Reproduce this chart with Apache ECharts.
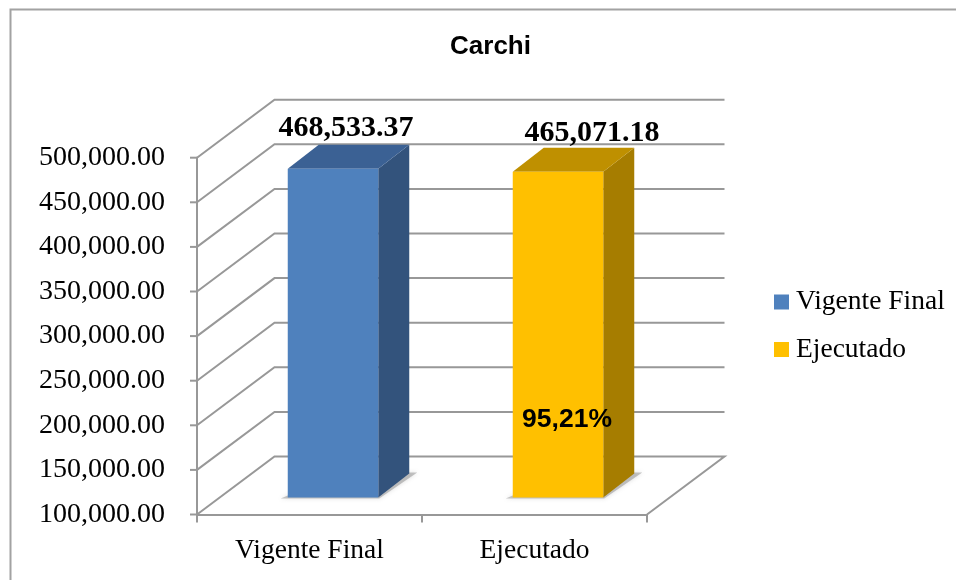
<!DOCTYPE html>
<html><head><meta charset="utf-8">
<style>html,body{margin:0;padding:0;background:#fff}#c{width:956px;height:580px}</style>
<script src="https://cdn.jsdelivr.net/npm/echarts@6/dist/echarts.min.js"></script>
</head><body><div id="c"></div>
<script>
var categories = ['Vigente Final', 'Ejecutado'];
var vigenteFinal = [468533.37];
var ejecutado = [465071.18];
var valueLabels = ['468,533.37', '465,071.18'];
var percentLabel = '95,21%';
var titleText = 'Carchi';
var tickValues = [100000,150000,200000,250000,300000,350000,400000,450000,500000];

var SERIF = '"Liberation Serif"';
var WALL = [77.5, -58];      // depth of the whole plot
var BAR_SHIFT = [23.5, -17]; // where the bars stand in the depth
var BAR_DEPTH = [31, -24];
var BAR_W = 90.5;
var LINE = '#989898';
var LW = 2;

function wallItem(params, api) {
  var v = api.value(0);
  var p = api.coord([0, v]);
  var cs = params.coordSys;
  var x0 = cs.x, x1 = cs.x + cs.width, y = p[1];
  var pts = [[x0, y], [x0 + WALL[0], y + WALL[1]], [x1 + WALL[0], y + WALL[1]]];
  if (v === tickValues[0]) pts.push([x1, y]);
  var st = {stroke: LINE, lineWidth: LW};
  var kids = [
    {type: 'polyline', shape: {points: pts}, style: {stroke: LINE, fill: null, lineWidth: LW}},
    {type: 'line', shape: {x1: x0 - 7, y1: y, x2: x0, y2: y}, style: st}
  ];
  if (v === tickValues[0]) {
    [x0, x0 + cs.width / 2, x1].forEach(function (x) {
      kids.push({type: 'line', shape: {x1: x, y1: y, x2: x, y2: y + 8}, style: st});
    });
  }
  return {type: 'group', children: kids};
}

function barRenderer(front, side, top, labelInfo, extra) {
  return function (params, api) {
    var c = api.coord([api.value(0), api.value(1)]);
    var base = api.coord([api.value(0), tickValues[0]]);
    var xc = c[0] + BAR_SHIFT[0];
    var l = xc - BAR_W / 2, r = xc + BAR_W / 2;
    var t = c[1] + BAR_SHIFT[1], b = base[1] + BAR_SHIFT[1];
    var dx = BAR_DEPTH[0], dy = BAR_DEPTH[1];
    var kids = [
      {type: 'polygon', shape: {points: [[l - 7, b + 1], [r + 1, b + 1], [r + dx + 8, b + dy - 1], [r + dx, b + dy - 1], [r, b - 2], [l, b - 2]]},
        style: {fill: 'rgba(130,130,130,0.45)', shadowBlur: 4, shadowColor: 'rgba(130,130,130,0.6)'}},
      {type: 'polygon', shape: {points: [[r, t], [r + dx, t + dy], [r + dx, b + dy], [r, b]]}, style: {fill: side}},
      {type: 'polygon', shape: {points: [[l, t], [l + dx, t + dy], [r + dx, t + dy], [r, t]]}, style: {fill: top}},
      {type: 'rect', shape: {x: l, y: t, width: r - l, height: b - t}, style: {fill: front}},
      {type: 'text', style: {text: valueLabels[labelInfo.i], x: xc + labelInfo.x, y: t + labelInfo.y, align: 'center', verticalAlign: 'middle',
        font: 'bold 30px ' + SERIF, fill: '#000'}}
    ];
    if (extra) kids.push({type: 'text', style: {text: extra, x: xc + 9, y: 420, align: 'center', verticalAlign: 'middle',
      font: 'bold 26.5px "Liberation Sans"', fill: '#000'}});
    return {type: 'group', children: kids};
  };
}

var chart = echarts.init(document.getElementById('c'), null, {renderer: 'canvas'});
chart.setOption({
  animation: false,
  backgroundColor: '#fff',
  graphic: [{type: 'polyline', silent: true, z: 0,
    shape: {points: [[10.5, 580], [10.5, 9.5], [956, 9.5]]},
    style: {stroke: '#a2a2a2', fill: null, lineWidth: 2}}],
  title: {text: titleText, left: 485.5, top: 29, textAlign: 'center',
    textStyle: {fontFamily: '"Liberation Sans"', fontWeight: 'bold', fontSize: 26, color: '#000'}},
  legend: {orient: 'vertical', left: 769, top: 283, itemWidth: 15, itemHeight: 15, itemGap: 19.5, icon: 'rect',
    data: categories, selectedMode: false,
    textStyle: {fontFamily: SERIF, fontSize: 27.5, color: '#000', padding: [0, 0, 0, 2]}},
  grid: {left: 197, width: 450, top: 157.7, height: 356.8},
  xAxis: {type: 'category', data: categories,
    axisLine: {lineStyle: {color: LINE, width: LW}},
    axisTick: {show: false},
    axisLabel: {fontFamily: SERIF, fontSize: 27.5, color: '#000', margin: 22}},
  yAxis: {type: 'value', min: 100000, max: 500000, interval: 50000,
    splitLine: {show: false},
    axisLine: {show: true, lineStyle: {color: LINE, width: LW}},
    axisTick: {show: false},
    axisLabel: {fontFamily: SERIF, fontSize: 28, color: '#000', margin: 32,
      formatter: function (v) { return v.toLocaleString('en-US', {minimumFractionDigits: 2, maximumFractionDigits: 2}); }}},
  series: [
    {type: 'custom', name: 'walls', silent: true, z: 1, data: tickValues.map(function (v) { return [v]; }),
      renderItem: wallItem, encode: {y: 0}},
    {type: 'custom', name: categories[0], z: 3, itemStyle: {color: '#4f81bd'},
      data: [[0, vigenteFinal[0]]],
      renderItem: barRenderer('#4f81bd', '#33537c', '#3b6194', {i: 0, x: 13, y: -41})},
    {type: 'custom', name: categories[1], z: 3, itemStyle: {color: '#ffc000'},
      data: [[1, ejecutado[0]]],
      renderItem: barRenderer('#ffc000', '#a67d00', '#bf9000', {i: 1, x: 34, y: -39}, percentLabel)}
  ]
});
</script></body></html>
